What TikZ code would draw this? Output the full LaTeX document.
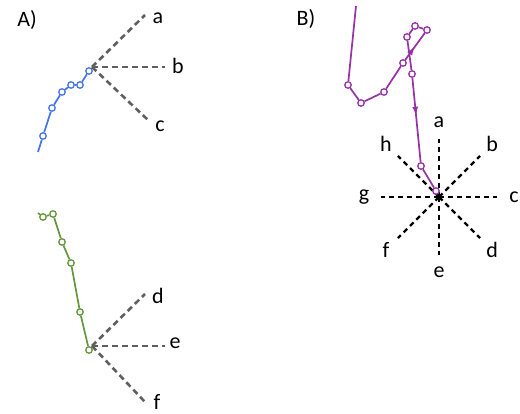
\documentclass[tikz,border=0pt]{standalone}
\usepackage{fontspec}
\setmainfont{Carlito}
\usetikzlibrary{arrows.meta,decorations.markings,calc}
\definecolor{myblue}{RGB}{70,115,235}
\definecolor{mygreen}{RGB}{100,150,60}
\definecolor{mypurple}{RGB}{150,50,165}
\definecolor{mygray}{RGB}{95,95,95}

\begin{document}
\begin{tikzpicture}[x=1pt,y=-1pt,
	every node/.style={font=\fontsize{22}{22}\selectfont},
	ptnode/.style={draw,circle,fill=white,inner sep=0pt,minimum size=6.5pt,line width=1.3pt},
	trackline/.style={line width=1.7pt},
	fanline/.style={draw=mygray,line width=2.6pt,dash pattern=on 6pt off 4pt},
	starline/.style={draw=black,line width=2.2pt,dash pattern=on 5pt off 4pt},
	midarrow/.style={postaction={decorate},decoration={markings,
		mark=at position #1 with {\arrow{Latex[length=9pt,width=6pt]}}}},
	]
	\useasboundingbox (0,0) rectangle (520,414);
	
	% the panel letters
	\node (labA) at (27,20) {A)};
	\node (labB) at (306,19) {B)};
	
	% the blue track
	\coordinate (b0) at (38,152);
	\foreach \i/\x/\y in {1/43/136,2/52/108,3/62/92,4/71/85,5/80/85,6/89/71}
	\node[ptnode,draw=myblue] (b\i) at (\x,\y) {};
	\draw[trackline,myblue] (b0) -- (b1) -- (b2) -- (b3) -- (b4) -- (b5) -- (b6);
	
	% the fan a, b, c
	\coordinate (fA) at (92,67);
	\foreach \n/\x/\y/\lx/\ly in {a/145/15/158/18,b/165/67/178/66,c/148/120/160/126}{
		\coordinate (e\n) at (\x,\y);
		\node (l\n) at (\lx,\ly) {\n};
		\draw[fanline] (fA) -- (e\n);
	}
	
	% the green track
	\coordinate (g0) at (38,213);
	\foreach \i/\x/\y in {1/43/217,2/53/214,3/62/242,4/71/263,5/80/312,6/89/350}
	\node[ptnode,draw=mygreen] (g\i) at (\x,\y) {};
	\draw[trackline,mygreen] (g0) -- (g1) -- (g2) -- (g3) -- (g4) -- (g5) -- (g6);
	
	% the fan d, e, f
	\coordinate (fB) at (92,346);
	\foreach \n/\x/\y/\lx/\ly in {d/145/294/158/296,e/165/346/175/343,f/145/402/157/402}{
		\coordinate (e\n) at (\x,\y);
		\node (l\n) at (\lx,\ly) {\n};
		\draw[fanline] (fB) -- (e\n);
	}
	
	% the star
	\coordinate (ctr) at (439,197);
	\foreach \ang/\n in {-90/a,-45/b,0/c,45/d,90/e,135/f,180/g,-135/h}{
		\coordinate (s\n) at ($(ctr)+(\ang:58)$);
		\node (t\n) at ($(ctr)+(\ang:75)$) {\n};
		\draw[starline] (ctr) -- (s\n);
	}
	
	% the purple track
	\coordinate (q0) at (356,6);
	\foreach \i/\x/\y in {1/348/85,2/361/103,3/384/92,4/403/63,5/427/30,6/415/26,7/407/37,8/412/74,9/421/166,10/436/191}
	\node[ptnode,draw=mypurple] (q\i) at (\x,\y) {};
	\draw[trackline,mypurple] (q0) -- (q1) -- (q2) -- (q3) -- (q4);
	\draw[trackline,mypurple,midarrow=0.5] (q4) -- (q5);
	\draw[trackline,mypurple] (q5) -- (q6) -- (q7) -- (q8);
	\draw[trackline,mypurple,midarrow=0.45] (q8) -- (q9);
	\draw[trackline,mypurple] (q9) -- (q10);
\end{tikzpicture}
\end{document}
